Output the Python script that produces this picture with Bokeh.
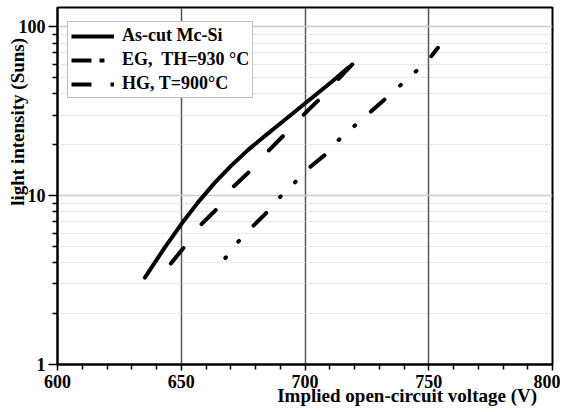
from bokeh.plotting import figure
from bokeh.models import Range1d, FixedTicker, Legend, LegendItem
from bokeh.embed import file_html
from bokeh.resources import INLINE

# ---- data ----
ascut_v = [635.3, 643.1, 649.9, 656.6, 663.4, 670.1, 676.9, 683.7, 690.4, 700.6, 710.7, 717.5]
ascut_i = [3.27, 4.87, 6.74, 9.06, 11.86, 15.0, 18.6, 22.5, 27.0, 35.7, 47.1, 57.3]

eg_v = [645.8, 651.2, 657.7, 664.5, 670.8, 678.5, 686.1, 693.1, 701.2, 708.4, 716.1, 722.2]
eg_i = [3.96, 4.96, 6.67, 8.38, 11.2, 14.3, 19.0, 24.1, 32.0, 40.5, 53.9, 66.7]

hg_v = [667.8, 673.1, 678.0, 684.1, 689.1, 695.5, 700.9, 707.8, 713.0, 719.5, 725.6, 731.7,
        737.8, 744.2, 749.9, 753.7]
hg_i = [4.27, 5.35, 6.38, 7.82, 9.55, 11.8, 14.3, 17.3, 21.0, 25.5, 30.5, 36.6,
        44.0, 53.4, 63.8, 75.1]

series_names = ["As-cut Mc-Si", "EG,  TH=930 °C", "HG, T=900°C"]

x_major = [600, 650, 700, 750, 800]
x_minor = [v for v in range(610, 800, 10) if v % 50 != 0]
y_major = [1, 10, 100]
y_minor = [m * d for d in (1, 10) for m in range(2, 10)] + [200]

x_title = "Implied open-circuit voltage (V)"
y_title = "light intensity (Suns)"

FONT = "Liberation Serif"
NBSP = "\u00a0"

p = figure(width=560, height=411, y_axis_type="log",
           x_range=Range1d(600, 800), y_range=Range1d(1, 130),
           output_backend="svg", toolbar_location=None,
           min_border_left=57, min_border_right=8, min_border_top=7, min_border_bottom=47)

p.background_fill_color = "white"
p.border_fill_color = "white"
p.outline_line_color = "black"
p.outline_line_width = 2

# axes
p.xaxis.ticker = FixedTicker(ticks=x_major, minor_ticks=x_minor)
p.yaxis.ticker = FixedTicker(ticks=y_major, minor_ticks=y_minor)
p.yaxis.major_label_overrides = {1: "1", 10: "10", 100: "100"}
# titles are off-centre in the reference: leading no-break spaces shift them
p.xaxis.axis_label = NBSP * 43 + x_title
p.yaxis.axis_label = NBSP * 27 + y_title
for ax in (p.xaxis, p.yaxis):
    ax.axis_line_width = 2
    ax.axis_line_color = "black"
    ax.major_tick_line_width = 1.5
    ax.minor_tick_line_width = 1.5
    ax.major_tick_line_color = "black"
    ax.minor_tick_line_color = "black"
    ax.major_tick_in = 0
    ax.minor_tick_in = 0
    ax.major_label_text_font = FONT
    ax.major_label_text_font_style = "bold"
    ax.major_label_text_font_size = "18px"
    ax.major_label_text_color = "black"
    ax.axis_label_text_font = FONT
    ax.axis_label_text_font_style = "bold"
    ax.axis_label_text_font_size = "19px"
    ax.axis_label_text_color = "black"
p.xaxis.major_tick_out = 6
p.xaxis.minor_tick_out = 5
p.xaxis.major_label_standoff = 4
p.xaxis.axis_label_standoff = -6
p.yaxis.major_tick_out = 9
p.yaxis.minor_tick_out = 5
p.yaxis.major_label_standoff = 3
p.yaxis.axis_label_standoff = -12

# grids
p.xgrid.grid_line_color = "#555555"
p.xgrid.grid_line_width = 1.5
p.ygrid.grid_line_color = "#cccccc"
p.ygrid.grid_line_width = 1.5
p.ygrid.minor_grid_line_color = "#d4d4d4"
p.ygrid.minor_grid_line_width = 1
p.ygrid.minor_grid_line_dash = "2 2"

# curves
common = dict(line_color="black", line_width=4, line_cap="round", line_join="round")
p.line(ascut_v, ascut_i, **common)
p.line(eg_v, eg_i, line_dash="20 30", **common)
p.line(hg_v, hg_i, line_dash="1 20 1 21 18 21", **common)

# legend-only glyphs (kept outside the visible range; they only style the legend)
off_x = [500, 501]
off_y = [1, 1]
leg_common = dict(line_color="black", line_width=4, line_cap="butt")
r0 = p.line(off_x, off_y, **leg_common)
r1 = p.line(off_x, off_y, line_dash="20 8 5 30", **leg_common)
r2 = p.line(off_x, off_y, line_dash="20 19 4 30", **leg_common)

lg = Legend(items=[LegendItem(label=series_names[0], renderers=[r0]),
                   LegendItem(label=series_names[1], renderers=[r1]),
                   LegendItem(label=series_names[2], renderers=[r2])])
lg.location = (10, 266)
lg.border_line_color = "#888888"
lg.border_line_width = 1
lg.background_fill_color = "white"
lg.background_fill_alpha = 1
lg.padding = 3
lg.spacing = 3
lg.margin = 0
lg.glyph_width = 43
lg.glyph_height = 20
lg.label_height = 20
lg.label_standoff = 8
lg.label_text_font = FONT
lg.label_text_font_style = "bold"
lg.label_text_font_size = "18px"
lg.label_text_color = "black"
p.add_layout(lg, "center")

open("out.html", "w").write(file_html(p, INLINE))
